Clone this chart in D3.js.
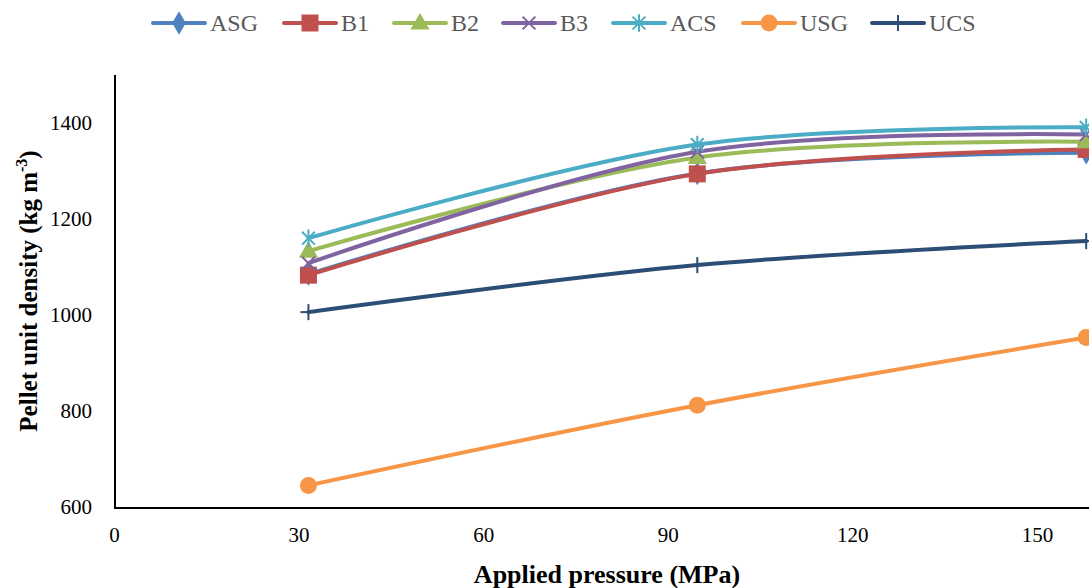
<!DOCTYPE html>
<html>
<head>
<meta charset="utf-8">
<script src="https://cdn.jsdelivr.net/npm/d3@7"></script>
<style>
  html, body { margin: 0; padding: 0; background: #fff; }
  svg { display: block; }
  text { font-family: "Liberation Serif", "Times New Roman", serif; }
</style>
</head>
<body>
<svg id="chart" width="1089" height="588"></svg>
<script>
// data
const pressures = [31.6, 94.8, 158];
const seriesNames = ['ASG', 'B1', 'B2', 'B3', 'ACS', 'USG', 'UCS'];
const asg = [1085, 1295, 1338];
const b1 = [1083, 1294, 1345];
const b2 = [1133, 1328, 1361];
const b3 = [1108, 1340, 1376];
const acs = [1160, 1355, 1391];
const usg = [645, 812, 953];
const ucs = [1006, 1104, 1154];
const xTicks = [0, 30, 60, 90, 120, 150];
const yTicks = [600, 800, 1000, 1200, 1400];

const colors = ['#4F81BD', '#C0504D', '#9BBB59', '#8064A2', '#4BACC6', '#F79646', '#2C4D75'];
const markers = ['diamond', 'square', 'triangle', 'x', 'star', 'circle', 'plus'];
const allValues = [asg, b1, b2, b3, acs, usg, ucs];

const width = 1089, height = 588;
const margins = { top: 75, right: 0, bottom: 81, left: 114 };

const translate = (x, y) => `translate(${x}, ${y})`;

const svg = d3.select('#chart');

// X axis - pressure (plot runs off the right edge)
const xScale = d3.scaleLinear()
    .domain([0, 150])
    .range([margins.left, margins.left + 150 * 6.153]);

// Y axis - density
const yScale = d3.scaleLinear()
    .domain([600, 1500])
    .range([height - margins.bottom, margins.top]);

svg.append('g')
    .attr('class', 'axis x-axis')
    .attr('transform', translate(0, height - margins.bottom))
    .call(d3.axisBottom(xScale).tickValues(xTicks).tickFormat(d3.format('d')).tickSize(0).tickPadding(20))
    .call(g => g.select('.domain').remove())
    .selectAll('text')
    .attr('font-size', 21)
    .attr('font-family', '"Liberation Serif", serif')
    .attr('fill', '#000');

svg.append('g')
    .attr('class', 'axis y-axis')
    .attr('transform', translate(margins.left, 0))
    .call(d3.axisLeft(yScale).tickValues(yTicks).tickFormat(d3.format('d')).tickSize(0).tickPadding(22))
    .call(g => g.select('.domain').remove())
    .selectAll('text')
    .attr('font-size', 21)
    .attr('font-family', '"Liberation Serif", serif')
    .attr('fill', '#000');

// axis lines
svg.append('line')
    .attr('x1', margins.left + 1).attr('x2', margins.left + 1)
    .attr('y1', yScale(1500)).attr('y2', yScale(600) + 1)
    .attr('stroke', '#000').attr('stroke-width', 2);
svg.append('line')
    .attr('x1', margins.left).attr('x2', width)
    .attr('y1', yScale(600) + 1).attr('y2', yScale(600) + 1)
    .attr('stroke', '#000').attr('stroke-width', 2);

// axis titles
svg.append('text')
    .attr('x', 607).attr('y', 583)
    .attr('text-anchor', 'middle')
    .attr('font-size', 26).attr('font-weight', 'bold')
    .text('Applied pressure (MPa)');

const yTitle = svg.append('text')
    .attr('transform', translate(37, 291) + ' rotate(-90)')
    .attr('text-anchor', 'middle')
    .attr('font-size', 25).attr('font-weight', 'bold');
yTitle.append('tspan').text('Pellet unit density (kg m');
yTitle.append('tspan').attr('dy', -10).attr('font-size', 16).text('-3');
yTitle.append('tspan').attr('dy', 10).text(')');

// marker drawing
function drawMarker(g, type, color, x, y) {
    if (type === 'diamond') {
        g.append('path').attr('transform', translate(x, y))
            .attr('d', d3.symbol(d3.symbolDiamond, 160)()).attr('fill', color);
    } else if (type === 'square') {
        g.append('rect').attr('x', x - 8.5).attr('y', y - 8.5)
            .attr('width', 17).attr('height', 17).attr('fill', color);
    } else if (type === 'triangle') {
        g.append('path').attr('transform', translate(x, y + 1))
            .attr('d', d3.symbol(d3.symbolTriangle, 160)()).attr('fill', color);
    } else if (type === 'circle') {
        g.append('circle').attr('cx', x).attr('cy', y).attr('r', 8.5).attr('fill', color);
    } else {
        const r = 8;
        let segs = [];
        if (type === 'x' || type === 'star') {
            segs.push([-r * 0.8, -r * 0.8, r * 0.8, r * 0.8]);
            segs.push([-r * 0.8, r * 0.8, r * 0.8, -r * 0.8]);
        }
        if (type === 'star') segs.push([0, -r * 1.1, 0, r * 1.1]);
        if (type === 'plus') {
            segs.push([0, -r, 0, r]);
            segs.push([-r, 0, r, 0]);
        }
        segs.forEach(s => {
            g.append('line')
                .attr('x1', x + s[0]).attr('y1', y + s[1])
                .attr('x2', x + s[2]).attr('y2', y + s[3])
                .attr('stroke', color).attr('stroke-width', 2);
        });
    }
}

// lines
const line = d3.line()
    .x((d, i) => xScale(pressures[i]))
    .y(d => yScale(d))
    .curve(d3.curveCardinal.tension(0));

const seriesG = svg.append('g').attr('id', 'series');
allValues.forEach((vals, si) => {
    const g = seriesG.append('g');
    g.append('path')
        .datum(vals)
        .attr('d', line)
        .attr('fill', 'none')
        .attr('stroke', colors[si])
        .attr('stroke-width', 4)
        .attr('stroke-linecap', 'round');
    vals.forEach((v, i) => drawMarker(g, markers[si], colors[si], xScale(pressures[i]), yScale(v)));
});

// legend
const legendX = [153, 284, 394, 503, 613, 743, 872];
const legend = svg.append('g').attr('id', 'legend');
seriesNames.forEach((name, si) => {
    const g = legend.append('g').attr('transform', translate(legendX[si], 23));
    g.append('line').attr('x1', 0).attr('x2', 52).attr('y1', 0).attr('y2', 0)
        .attr('stroke', colors[si]).attr('stroke-width', 4).attr('stroke-linecap', 'round');
    drawMarker(g, markers[si], colors[si], 26, 0);
    g.append('text').attr('x', 57).attr('y', 8)
        .attr('font-size', 24).attr('fill', '#595959')
        .text(name);
});
</script>
</body>
</html>
